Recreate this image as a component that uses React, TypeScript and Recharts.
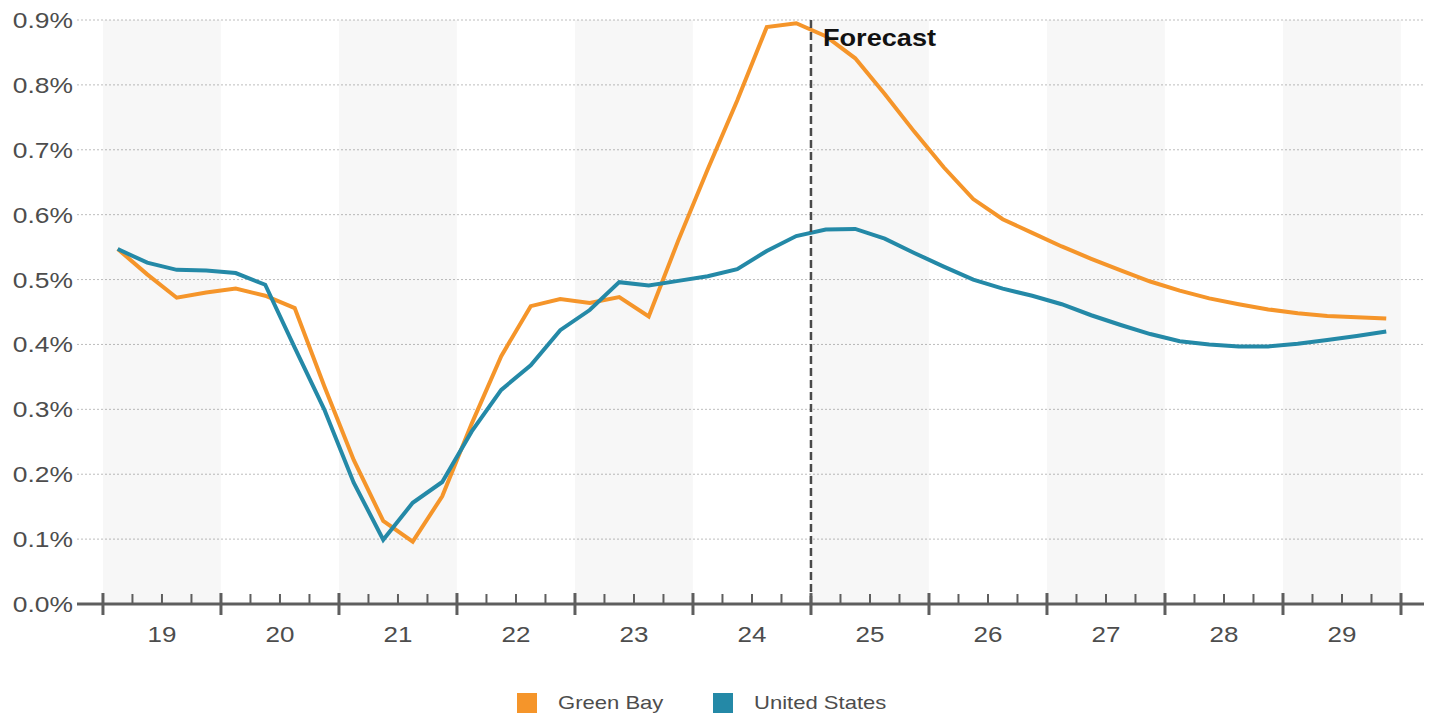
import React from "react";
import {
  LineChart,
  Line,
  XAxis,
  YAxis,
  CartesianGrid,
  ReferenceArea,
  ReferenceLine,
  Legend,
} from "recharts";

// Year labels, one per four quarters
const years = ["19", "20", "21", "22", "23", "24", "25", "26", "27", "28", "29"];

// Quarterly growth rate, in percent
const greenBay = [
  0.547, 0.508, 0.472, 0.48, 0.486, 0.475, 0.456, 0.336,
  0.222, 0.128, 0.096, 0.166, 0.278, 0.382, 0.459, 0.47,
  0.464, 0.473, 0.443, 0.56, 0.67, 0.776, 0.889, 0.895,
  0.875, 0.841, 0.786, 0.728, 0.673, 0.624, 0.593, 0.572,
  0.551, 0.532, 0.514, 0.497, 0.483, 0.471, 0.462, 0.454,
  0.448, 0.444, 0.442, 0.44,
];

const unitedStates = [
  0.547, 0.526, 0.515, 0.514, 0.51, 0.492, 0.395, 0.3,
  0.187, 0.099, 0.156, 0.188, 0.266, 0.33, 0.368, 0.422,
  0.453, 0.496, 0.491, 0.498, 0.505, 0.516, 0.544, 0.567,
  0.577, 0.578, 0.563, 0.541, 0.52, 0.5, 0.486, 0.475,
  0.462, 0.445, 0.43, 0.416, 0.405, 0.4, 0.397, 0.397,
  0.401, 0.407, 0.413, 0.42,
];

const yTicks = [0, 0.1, 0.2, 0.3, 0.4, 0.5, 0.6, 0.7, 0.8, 0.9];

// forecast starts with the first quarter of 25
const forecastStart = 24;

const data = greenBay.map((v, i) => ({
  q: i + 0.5,
  greenBay: v,
  unitedStates: unitedStates[i],
}));

const W = 1435;
const H = 719;
const MARGIN = { top: 20, right: 11, bottom: 65, left: 5 };
const XAXIS_H = 50;
const AXIS_Y = H - MARGIN.bottom - XAXIS_H;

const FONT = "'Liberation Sans', Arial, Helvetica, sans-serif";
const ORANGE = "#f5952a";
const BLUE = "#2489a7";
const TEXT = "#4d4d4d";
const AXIS = "#5e5e5e";

const quarterTicks = Array.from({ length: years.length * 4 + 1 }, (_, i) => i);

function XTick(props: any) {
  const { x, payload } = props;
  const i = payload.value as number;
  const major = i % 4 === 0;
  const year = i % 4 === 2 ? years[(i - 2) / 4] : null;
  return (
    <g>
      <line
        x1={x}
        x2={x}
        y1={AXIS_Y - (major ? 11 : 10)}
        y2={major ? AXIS_Y + 11 : AXIS_Y}
        stroke={AXIS}
        strokeWidth={major ? 3 : 2}
      />
      {year && (
        <text
          transform={`translate(${x} ${AXIS_Y + 38}) scale(1.18 1)`}
          textAnchor="middle"
          fontSize={22}
          fontFamily={FONT}
          fill={TEXT}
        >
          {year}
        </text>
      )}
    </g>
  );
}

function YTick(props: any) {
  const { y, payload } = props;
  return (
    <text
      transform={`translate(73 ${y + 8}) scale(1.2 1)`}
      textAnchor="end"
      fontSize={22}
      fontFamily={FONT}
      fill={TEXT}
    >
      {`${payload.value.toFixed(1)}%`}
    </text>
  );
}

function ForecastLabel(props: any) {
  const { viewBox } = props;
  return (
    <text
      transform={`translate(${viewBox.x + 12} ${viewBox.y + 26}) scale(1.18 1)`}
      fontSize={23}
      fontWeight="bold"
      fontFamily={FONT}
      fill="#111"
    >
      Forecast
    </text>
  );
}

function LegendContent() {
  const items = [
    { name: "Green Bay", color: ORANGE, width: 196 },
    { name: "United States", color: BLUE, width: 200 },
  ];
  return (
    <div style={{ display: "flex", marginLeft: 517, fontFamily: FONT }}>
      {items.map((it) => (
        <div key={it.name} style={{ display: "flex", alignItems: "center", width: it.width }}>
          <span style={{ width: 20, height: 20, background: it.color, marginRight: 21 }} />
          <span
            style={{
              display: "inline-block",
              fontSize: 19,
              color: TEXT,
              transform: "scaleX(1.16)",
              transformOrigin: "left center",
              whiteSpace: "nowrap",
            }}
          >
            {it.name}
          </span>
        </div>
      ))}
    </div>
  );
}

export default function App() {
  return (
    <div style={{ position: "absolute", left: 0, top: 0, width: W, height: H, background: "#fff" }}>
      <LineChart width={W} height={H} data={data} margin={MARGIN}>
        {years.map((y, k) =>
          k % 2 === 0 ? (
            <ReferenceArea
              key={y}
              x1={k * 4}
              x2={k * 4 + 4}
              y1={0}
              y2={0.9}
              fill="#000"
              fillOpacity={0.032}
              stroke="none"
              ifOverflow="visible"
            />
          ) : null
        )}
        <CartesianGrid
          vertical={false}
          stroke="#bdbdbd"
          strokeDasharray="2 2"
          strokeWidth={1}
        />
        <XAxis
          type="number"
          dataKey="q"
          domain={[-0.88, 44.78]}
          ticks={quarterTicks}
          interval={0}
          allowDataOverflow
          height={XAXIS_H}
          tickLine={false}
          axisLine={{ stroke: AXIS, strokeWidth: 3 }}
          tick={(p: any) => <XTick {...p} />}
        />
        <YAxis
          type="number"
          domain={[0, 0.9]}
          ticks={yTicks}
          interval={0}
          width={72}
          axisLine={false}
          tickLine={false}
          tick={(p: any) => <YTick {...p} />}
        />
        <Line
          type="linear"
          dataKey="greenBay"
          name="Green Bay"
          stroke={ORANGE}
          strokeWidth={4}
          dot={false}
          isAnimationActive={false}
        />
        <Line
          type="linear"
          dataKey="unitedStates"
          name="United States"
          stroke={BLUE}
          strokeWidth={4}
          dot={false}
          isAnimationActive={false}
        />
        <ReferenceLine
          x={forecastStart}
          stroke="#4a4a4a"
          strokeWidth={2.5}
          strokeDasharray="8 4"
          label={<ForecastLabel />}
        />
        <Legend
          verticalAlign="middle"
          align="center"
          layout="horizontal"
          content={() => <LegendContent />}
          wrapperStyle={{ top: 692, left: 0, width: W }}
        />
      </LineChart>
    </div>
  );
}
